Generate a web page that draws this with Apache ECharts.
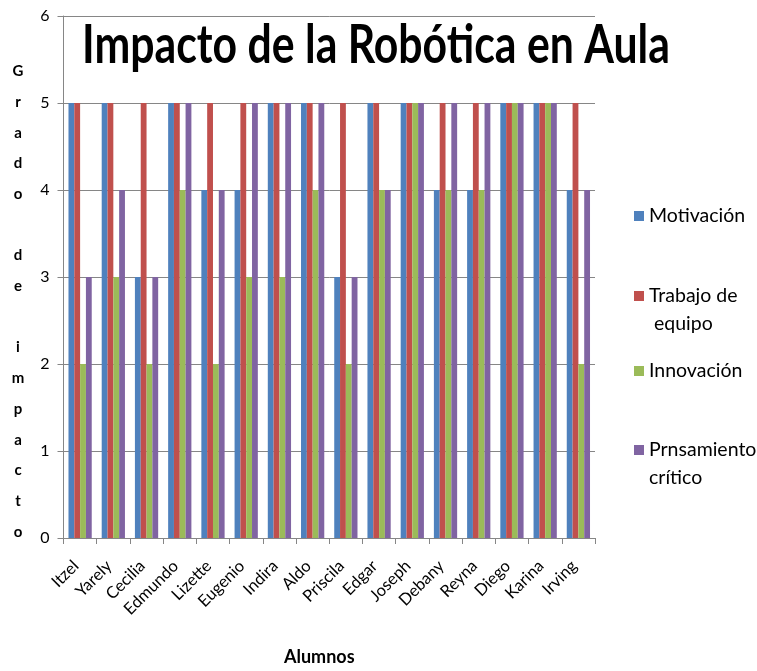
<!DOCTYPE html>
<html>
<head>
<meta charset="utf-8">
<script src="https://cdn.jsdelivr.net/npm/echarts@6/dist/echarts.min.js"></script>
<style>
  html, body { margin: 0; padding: 0; background: #ffffff; }
  #chart { width: 757px; height: 671px; }
</style>
</head>
<body>
<div id="chart"></div>
<script>
// Students on the category axis
const alumnos = ['Itzel', 'Yarely', 'Cecilia', 'Edmundo', 'Lizette', 'Eugenio', 'Indira', 'Aldo',
                 'Priscila', 'Edgar', 'Joseph', 'Debany', 'Reyna', 'Diego', 'Karina', 'Irving'];

// Impact score (0-6) per student for each aspect
const motivacion      = [5, 5, 3, 5, 4, 4, 5, 5, 3, 5, 5, 4, 4, 5, 5, 4];
const trabajoEquipo   = [5, 5, 5, 5, 5, 5, 5, 5, 5, 5, 5, 5, 5, 5, 5, 5];
const innovacion      = [2, 3, 2, 4, 2, 3, 3, 4, 2, 4, 5, 4, 4, 5, 5, 2];
const pensamiento     = [3, 4, 3, 5, 4, 5, 5, 5, 3, 4, 5, 5, 5, 5, 5, 4];

const seriesNames = ['Motivación', 'Trabajo de equipo', 'Innovación', 'Prnsamiento crítico'];
// Wrapped legend labels (the marker sits on the first line)
const legendLines = [['Motivación'], ['Trabajo de', ' equipo'], ['Innovación'], ['Prnsamiento', 'crítico']];
const seriesData = [motivacion, trabajoEquipo, innovacion, pensamiento];
const colors = ['#4F81BD', '#C0504D', '#9BBB59', '#8064A2'];

const yTicks = [0, 1, 2, 3, 4, 5, 6];
const titulo = 'Impacto de la Robótica en Aula';
const yTitle = 'Grado de impacto';
const xTitle = 'Alumnos';

// Vertical y-axis title: one letter per line, blank line between words
const yTitleStacked = yTitle.split('').join('\n');

// Fit the title's font size to its target width
const FONT = 'Lato, sans-serif';
const measureCtx = document.createElement('canvas').getContext('2d');
measureCtx.font = 'bold 40px ' + FONT;
const titleSize = 40 * 588 / measureCtx.measureText(titulo).width;
const titleScaleY = 38 / (0.7165 * titleSize);

const chart = echarts.init(document.getElementById('chart'), null, { renderer: 'canvas' });

const LH = 27.5;
// Vertical position of each legend marker's centre
const legendCenters = [216, 296, 371, 450];
const legends = seriesNames.map((name, i) => {
  const lines = legendLines[i];
  // a leading blank line keeps the marker level with the first text line
  const text = lines.length > 1 ? ['\u00A0'].concat(lines).join('\n') : lines[0];
  const nLines = lines.length > 1 ? lines.length + 1 : 1;
  return {
    orient: 'vertical',
    left: 634,
    top: legendCenters[i] - (nLines * LH) / 2,
    padding: 0,
    data: [name],
    icon: 'rect',
    itemWidth: 10,
    itemHeight: 10,
    itemGap: 0,
    formatter: () => text,
    textStyle: {
      fontFamily: FONT,
      fontSize: 19.5,
      color: '#000',
      lineHeight: LH
    },
    selectedMode: false
  };
});

chart.setOption({
  backgroundColor: '#ffffff',
  animation: false,
  legend: legends,
  grid: { left: 63.5, right: 162, top: 16, bottom: 129.5, containLabel: false },
  xAxis: {
    type: 'category',
    data: alumnos,
    name: xTitle,
    nameLocation: 'middle',
    nameGap: 110,
    nameTextStyle: {
      fontFamily: FONT, fontWeight: 'bold', fontSize: 18, color: '#000',
      padding: [0, 20, 0, 0]
    },
    axisLine: { lineStyle: { color: '#868686', width: 1 } },
    axisTick: { show: true, alignWithLabel: false, length: 6, lineStyle: { color: '#868686' } },
    axisLabel: {
      rotate: 45,
      margin: 21,
      padding: [0, 6, 0, 0],
      fontFamily: FONT,
      fontSize: 16.5,
      color: '#000'
    }
  },
  yAxis: {
    type: 'value',
    min: 0,
    max: 6,
    interval: 1,
    axisLine: { show: true, lineStyle: { color: '#868686', width: 1 } },
    axisTick: { show: true, length: 6, lineStyle: { color: '#868686' } },
    splitLine: { show: true, lineStyle: { color: '#868686', width: 1 } },
    axisLabel: {
      margin: 14,
      fontFamily: FONT,
      fontSize: 16,
      color: '#000',
      formatter: v => (yTicks.includes(v) ? String(v) : '')
    }
  },
  graphic: [{
    // chart title, stretched slightly taller
    type: 'text',
    x: 376,
    y: 45.5,
    scaleY: titleScaleY,
    z: 10,
    style: {
      text: titulo,
      fontFamily: FONT,
      fontWeight: 'bold',
      fontSize: titleSize,
      align: 'center',
      verticalAlign: 'middle',
      fill: '#000'
    }
  }, {
    // y-axis title, one letter per line
    type: 'text',
    x: 18,
    y: 56,
    style: {
      text: yTitleStacked,
      fontFamily: FONT,
      fontWeight: 'bold',
      fontSize: 15,
      lineHeight: 30.7,
      align: 'center',
      verticalAlign: 'top',
      fill: '#000'
    }
  }],
  series: seriesNames.map((name, i) => ({
    name,
    type: 'bar',
    data: seriesData[i],
    barGap: '0%',
    barCategoryGap: '30%',
    itemStyle: { color: colors[i] }
  }))
});
</script>
</body>
</html>
